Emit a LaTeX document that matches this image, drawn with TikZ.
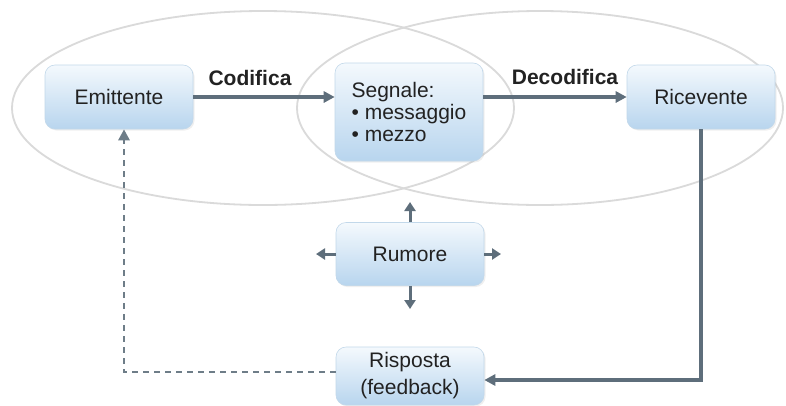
\documentclass[tikz,border=0pt]{standalone}
\usepackage{fontspec}
\setmainfont{Liberation Sans}
\usetikzlibrary{arrows.meta,shadows}
\definecolor{boxtop}{HTML}{F4F9FD}
\definecolor{boxbot}{HTML}{B8D5EE}
\definecolor{boxedge}{HTML}{C2D8EA}
\definecolor{arrowc}{HTML}{5E6E7B}
\definecolor{ellc}{HTML}{DADADA}
\definecolor{txt}{HTML}{222222}
\begin{document}
\begin{tikzpicture}[x=1pt,y=-1pt,
  box/.style={rectangle, rounded corners=10pt, draw=boxedge, line width=0.6pt,
    top color=boxtop, bottom color=boxbot, minimum width=148pt, inner sep=0pt,
    font=\fontsize{21}{23}\selectfont, text=txt,
    drop shadow={opacity=0.12, shadow xshift=1.5pt, shadow yshift=-1.5pt}},
  lbl/.style={font=\bfseries\fontsize{21}{24}\selectfont, text=txt, inner sep=0pt},
  conn/.style={draw=arrowc, line width=3.2pt, -{Triangle[length=11pt,width=11pt]}},
  small/.style={draw=arrowc, line width=3pt, -{Triangle[length=9pt,width=11pt]}},
  ell/.style={draw=ellc, line width=1.8pt}]
\useasboundingbox (0,0) rectangle (786,405);
\fill[white] (0,0) rectangle (786,405);
% ellipses
\draw[ell] (263,108) ellipse [x radius=251pt, y radius=97pt];
\draw[ell] (540,108) ellipse [x radius=243pt, y radius=97pt];
% boxes
\node[box, minimum height=64pt] (emit) at (119,97) {Emittente};
\node[box, minimum height=98pt, align=left, font=\fontsize{21}{22}\selectfont] (seg) at (409,112) {Segnale:\\• messaggio\\• mezzo};
\node[box, minimum height=64pt] (ric) at (701,97) {Ricevente};
\node[box, minimum height=63pt] (rum) at (410,254) {Rumore};
\node[box, minimum height=58pt, align=center, font=\fontsize{21}{27}\selectfont] (risp) at (410,376) {Risposta\\(feedback)};
% labels
\node[lbl, anchor=base] (cod) at (250,85) {Codifica};
\node[lbl, anchor=base] (dec) at (565,84) {Decodifica};
% connectors
\draw[conn] (emit.east) -- (emit.east -| seg.west);
\draw[conn] (emit.east -| seg.east) -- (ric.west);
\draw[conn] (ric.south) |- ([yshift=-4pt]risp.east);
\draw[draw=arrowc!90, line width=2.8pt, dash pattern=on 6pt off 5pt, -{Triangle[length=11pt,width=11pt]}]
  ([yshift=4pt]risp.west) -| ([xshift=5pt]emit.south);
% noise arrows
\coordinate (nu) at (410,202);
\coordinate (nl) at (316,254);
\coordinate (nr) at (501,254);
\coordinate (nd) at (410,309);
\draw[small] (rum.north) -- (nu);
\draw[small] (rum.west) -- (nl);
\draw[small] (rum.east) -- (nr);
\draw[small] (rum.south) -- (nd);
\end{tikzpicture}
\end{document}
